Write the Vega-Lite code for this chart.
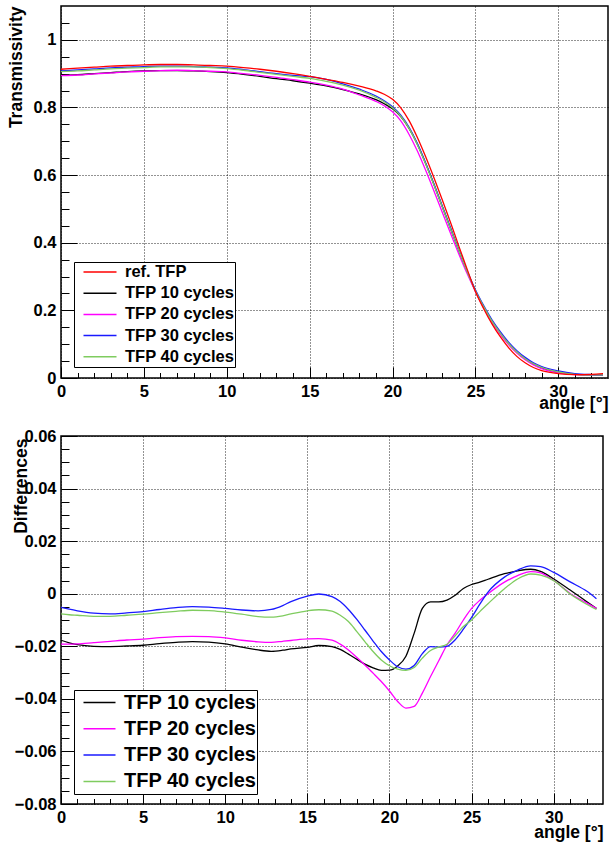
{
  "$schema": "https://vega.github.io/schema/vega-lite/v6.json",
  "padding": {"left": 6, "top": 5, "right": 0, "bottom": 0},
  "bounds": "flush",
  "spacing": 58,
  "datasets": {
    "top": [
      {"angle": 0, "ref": 0.913, "c10": 0.895, "c20": 0.894, "c30": 0.908, "c40": 0.906},
      {"angle": 1, "ref": 0.916, "c10": 0.897, "c20": 0.896, "c30": 0.911, "c40": 0.908},
      {"angle": 2, "ref": 0.919, "c10": 0.900, "c20": 0.899, "c30": 0.914, "c40": 0.911},
      {"angle": 3, "ref": 0.922, "c10": 0.903, "c20": 0.902, "c30": 0.917, "c40": 0.914},
      {"angle": 4, "ref": 0.924, "c10": 0.906, "c20": 0.905, "c30": 0.919, "c40": 0.916},
      {"angle": 5, "ref": 0.926, "c10": 0.908, "c20": 0.907, "c30": 0.921, "c40": 0.918},
      {"angle": 6, "ref": 0.927, "c10": 0.909, "c20": 0.909, "c30": 0.922, "c40": 0.920},
      {"angle": 7, "ref": 0.927, "c10": 0.909, "c20": 0.910, "c30": 0.922, "c40": 0.920},
      {"angle": 8, "ref": 0.926, "c10": 0.908, "c20": 0.909, "c30": 0.921, "c40": 0.920},
      {"angle": 9, "ref": 0.924, "c10": 0.906, "c20": 0.907, "c30": 0.919, "c40": 0.918},
      {"angle": 10, "ref": 0.922, "c10": 0.903, "c20": 0.905, "c30": 0.917, "c40": 0.915},
      {"angle": 11, "ref": 0.918, "c10": 0.898, "c20": 0.900, "c30": 0.912, "c40": 0.910},
      {"angle": 12, "ref": 0.913, "c10": 0.892, "c20": 0.895, "c30": 0.906, "c40": 0.904},
      {"angle": 13, "ref": 0.907, "c10": 0.885, "c20": 0.889, "c30": 0.900, "c40": 0.898},
      {"angle": 14, "ref": 0.900, "c10": 0.879, "c20": 0.882, "c30": 0.895, "c40": 0.892},
      {"angle": 15, "ref": 0.892, "c10": 0.872, "c20": 0.875, "c30": 0.891, "c40": 0.886},
      {"angle": 16, "ref": 0.883, "c10": 0.864, "c20": 0.866, "c30": 0.883, "c40": 0.877},
      {"angle": 17, "ref": 0.874, "c10": 0.853, "c20": 0.854, "c30": 0.870, "c40": 0.866},
      {"angle": 18, "ref": 0.863, "c10": 0.840, "c20": 0.837, "c30": 0.854, "c40": 0.851},
      {"angle": 19, "ref": 0.849, "c10": 0.823, "c20": 0.818, "c30": 0.834, "c40": 0.830},
      {"angle": 19.5, "ref": 0.839, "c10": 0.811, "c20": 0.805, "c30": 0.820, "c40": 0.817},
      {"angle": 20, "ref": 0.824, "c10": 0.796, "c20": 0.787, "c30": 0.802, "c40": 0.799},
      {"angle": 20.5, "ref": 0.799, "c10": 0.773, "c20": 0.760, "c30": 0.777, "c40": 0.774},
      {"angle": 21, "ref": 0.761, "c10": 0.738, "c20": 0.720, "c30": 0.741, "c40": 0.738},
      {"angle": 21.5, "ref": 0.711, "c10": 0.691, "c20": 0.671, "c30": 0.693, "c40": 0.690},
      {"angle": 22, "ref": 0.654, "c10": 0.634, "c20": 0.614, "c30": 0.636, "c40": 0.633},
      {"angle": 22.5, "ref": 0.592, "c10": 0.572, "c20": 0.553, "c30": 0.574, "c40": 0.571},
      {"angle": 23, "ref": 0.527, "c10": 0.507, "c20": 0.490, "c30": 0.509, "c40": 0.506},
      {"angle": 23.5, "ref": 0.460, "c10": 0.442, "c20": 0.428, "c30": 0.444, "c40": 0.441},
      {"angle": 24, "ref": 0.390, "c10": 0.377, "c20": 0.367, "c30": 0.379, "c40": 0.377},
      {"angle": 24.5, "ref": 0.322, "c10": 0.315, "c20": 0.309, "c30": 0.317, "c40": 0.315},
      {"angle": 25, "ref": 0.256, "c10": 0.258, "c20": 0.256, "c30": 0.261, "c40": 0.258},
      {"angle": 25.5, "ref": 0.205, "c10": 0.210, "c20": 0.208, "c30": 0.214, "c40": 0.211},
      {"angle": 26, "ref": 0.160, "c10": 0.168, "c20": 0.166, "c30": 0.172, "c40": 0.168},
      {"angle": 26.5, "ref": 0.122, "c10": 0.132, "c20": 0.130, "c30": 0.137, "c40": 0.133},
      {"angle": 27, "ref": 0.090, "c10": 0.101, "c20": 0.099, "c30": 0.106, "c40": 0.102},
      {"angle": 27.5, "ref": 0.064, "c10": 0.076, "c20": 0.074, "c30": 0.081, "c40": 0.077},
      {"angle": 28, "ref": 0.045, "c10": 0.056, "c20": 0.054, "c30": 0.061, "c40": 0.057},
      {"angle": 28.5, "ref": 0.031, "c10": 0.041, "c20": 0.039, "c30": 0.045, "c40": 0.042},
      {"angle": 29, "ref": 0.022, "c10": 0.030, "c20": 0.028, "c30": 0.034, "c40": 0.031},
      {"angle": 30, "ref": 0.013, "c10": 0.017, "c20": 0.016, "c30": 0.021, "c40": 0.018},
      {"angle": 31, "ref": 0.010, "c10": 0.011, "c20": 0.010, "c30": 0.013, "c40": 0.011},
      {"angle": 32, "ref": 0.011, "c10": 0.009, "c20": 0.009, "c30": 0.010, "c40": 0.009},
      {"angle": 32.7, "ref": 0.013, "c10": 0.009, "c20": 0.009, "c30": 0.009, "c40": 0.009}
    ],
    "diff": [
      {"angle": 0, "c10": -0.0177, "c20": -0.0192, "c30": -0.0052, "c40": -0.0077},
      {"angle": 0.5, "c10": -0.0187, "c20": -0.0192, "c30": -0.0059, "c40": -0.0080},
      {"angle": 1, "c10": -0.0194, "c20": -0.0191, "c30": -0.0065, "c40": -0.0082},
      {"angle": 2, "c10": -0.0200, "c20": -0.0186, "c30": -0.0074, "c40": -0.0086},
      {"angle": 3, "c10": -0.0201, "c20": -0.0181, "c30": -0.0077, "c40": -0.0086},
      {"angle": 4, "c10": -0.0199, "c20": -0.0176, "c30": -0.0073, "c40": -0.0082},
      {"angle": 5, "c10": -0.0196, "c20": -0.0173, "c30": -0.0068, "c40": -0.0078},
      {"angle": 6, "c10": -0.0190, "c20": -0.0167, "c30": -0.0060, "c40": -0.0072},
      {"angle": 7, "c10": -0.0185, "c20": -0.0163, "c30": -0.0053, "c40": -0.0067},
      {"angle": 8, "c10": -0.0182, "c20": -0.0162, "c30": -0.0049, "c40": -0.0063},
      {"angle": 9, "c10": -0.0184, "c20": -0.0163, "c30": -0.0051, "c40": -0.0064},
      {"angle": 10, "c10": -0.0191, "c20": -0.0168, "c30": -0.0056, "c40": -0.0070},
      {"angle": 11, "c10": -0.0203, "c20": -0.0177, "c30": -0.0062, "c40": -0.0078},
      {"angle": 12, "c10": -0.0214, "c20": -0.0183, "c30": -0.0065, "c40": -0.0087},
      {"angle": 12.8, "c10": -0.0219, "c20": -0.0185, "c30": -0.0060, "c40": -0.0089},
      {"angle": 13.5, "c10": -0.0215, "c20": -0.0181, "c30": -0.0045, "c40": -0.0084},
      {"angle": 14, "c10": -0.0210, "c20": -0.0178, "c30": -0.0030, "c40": -0.0077},
      {"angle": 15, "c10": -0.0204, "c20": -0.0172, "c30": -0.0009, "c40": -0.0065},
      {"angle": 15.7, "c10": -0.0197, "c20": -0.0171, "c30": -0.0001, "c40": -0.0061},
      {"angle": 16.5, "c10": -0.0201, "c20": -0.0177, "c30": -0.0011, "c40": -0.0066},
      {"angle": 17, "c10": -0.0212, "c20": -0.0192, "c30": -0.0030, "c40": -0.0082},
      {"angle": 17.5, "c10": -0.0230, "c20": -0.0214, "c30": -0.0060, "c40": -0.0106},
      {"angle": 18, "c10": -0.0249, "c20": -0.0242, "c30": -0.0097, "c40": -0.0143},
      {"angle": 18.5, "c10": -0.0268, "c20": -0.0271, "c30": -0.0138, "c40": -0.0182},
      {"angle": 19, "c10": -0.0282, "c20": -0.0302, "c30": -0.0180, "c40": -0.0220},
      {"angle": 19.5, "c10": -0.0292, "c20": -0.0334, "c30": -0.0220, "c40": -0.0252},
      {"angle": 20, "c10": -0.0291, "c20": -0.0370, "c30": -0.0252, "c40": -0.0274},
      {"angle": 20.5, "c10": -0.0275, "c20": -0.0410, "c30": -0.0278, "c40": -0.0287},
      {"angle": 21, "c10": -0.0238, "c20": -0.0435, "c30": -0.0287, "c40": -0.0292},
      {"angle": 21.5, "c10": -0.0151, "c20": -0.0429, "c30": -0.0273, "c40": -0.0281},
      {"angle": 22, "c10": -0.0056, "c20": -0.0378, "c30": -0.0228, "c40": -0.0245},
      {"angle": 22.5, "c10": -0.0031, "c20": -0.0315, "c30": -0.0201, "c40": -0.0216},
      {"angle": 23, "c10": -0.0031, "c20": -0.0255, "c30": -0.0203, "c40": -0.0203},
      {"angle": 23.5, "c10": -0.0024, "c20": -0.0195, "c30": -0.0200, "c40": -0.0192},
      {"angle": 24, "c10": -0.0006, "c20": -0.0150, "c30": -0.0175, "c40": -0.0160},
      {"angle": 24.5, "c10": 0.0020, "c20": -0.0100, "c30": -0.0135, "c40": -0.0125},
      {"angle": 25, "c10": 0.0035, "c20": -0.0056, "c30": -0.0090, "c40": -0.0100},
      {"angle": 25.5, "c10": 0.0044, "c20": -0.0025, "c30": -0.0040, "c40": -0.0068},
      {"angle": 26, "c10": 0.0055, "c20": 0.0000, "c30": 0.0006, "c40": -0.0038},
      {"angle": 27, "c10": 0.0076, "c20": 0.0044, "c30": 0.0063, "c40": 0.0019},
      {"angle": 27.8, "c10": 0.0087, "c20": 0.0069, "c30": 0.0090, "c40": 0.0056},
      {"angle": 28.6, "c10": 0.0093, "c20": 0.0084, "c30": 0.0106, "c40": 0.0075},
      {"angle": 29.2, "c10": 0.0085, "c20": 0.0079, "c30": 0.0103, "c40": 0.0071},
      {"angle": 30, "c10": 0.0056, "c20": 0.0050, "c30": 0.0081, "c40": 0.0050},
      {"angle": 31, "c10": 0.0014, "c20": 0.0001, "c30": 0.0045, "c40": -0.0001},
      {"angle": 32, "c10": -0.0030, "c20": -0.0035, "c30": 0.0010, "c40": -0.0040},
      {"angle": 32.6, "c10": -0.0056, "c20": -0.0056, "c30": -0.0019, "c40": -0.0060}
    ]
  },
  "vconcat": [
    {
      "width": 547,
      "height": 372,
      "data": {"name": "top"},
      "transform": [{"fold": ["ref", "c10", "c20", "c30", "c40"], "as": ["series", "T"]}],
      "layer": [
        {
          "transform": [{"filter": "datum.series !== 'ref'"}],
          "mark": {"type": "line", "strokeWidth": 1.3, "interpolate": "monotone"},
          "encoding": {
            "x": {"field": "angle", "type": "quantitative", "scale": {"domain": [0, 33], "nice": false, "zero": false},
              "axis": {"orient": "bottom", "values": [1,2,3,4,6,7,8,9,11,12,13,14,16,17,18,19,21,22,23,24,26,27,28,29,31,32], "labels": false, "grid": false, "domain": false, "title": null, "tickSize": -5.5}},
            "y": {"field": "T", "type": "quantitative", "scale": {"domain": [0, 1.1], "nice": false},
              "axis": {"orient": "left", "values": [0.05,0.1,0.15,0.25,0.3,0.35,0.45,0.5,0.55,0.65,0.7,0.75,0.85,0.9,0.95,1.05], "labels": false, "grid": false, "domain": false, "title": null, "tickSize": -8}},
            "color": {"field": "series", "type": "nominal",
              "scale": {"domain": ["ref", "c10", "c20", "c30", "c40"], "range": ["#ff0000", "#000000", "#ff00ff", "#1a1aff", "#7fcc5f"]},
              "legend": {"orient": "none", "legendX": 13, "legendY": 256, "title": null, "padding": 0.5, "strokeColor": "#000", "fillColor": "#fff", "symbolType": "stroke", "symbolSize": 1089, "symbolStrokeWidth": 1.5, "symbolOffset": 8, "labelOffset": 7.5, "labelFontSize": 16.5, "labelFontWeight": "bold", "clipHeight": 19, "rowPadding": 2.2,
                "labelExpr": "{'ref': 'ref. TFP', 'c10': 'TFP 10 cycles', 'c20': 'TFP 20 cycles', 'c30': 'TFP 30 cycles', 'c40': 'TFP 40 cycles'}[datum.value] + '\u00a0\u00a0\u00a0\u00a0\u00a0\u00a0\u00a0'"}}
          }
        },
        {
          "transform": [{"filter": "datum.series === 'ref'"}],
          "mark": {"type": "line", "strokeWidth": 1.3, "interpolate": "monotone"},
          "encoding": {
            "x": {"field": "angle", "type": "quantitative", "scale": {"domain": [0, 33], "nice": false, "zero": false},
              "axis": {"orient": "bottom", "values": [0,5,10,15,20,25,30], "format": "d", "tickSize": -11, "labelPadding": 16, "grid": true, "title": "angle [°]", "titleX": 547, "titleY": 30.5, "titleAlign": "right", "titleBaseline": "alphabetic"}},
            "y": {"field": "T", "type": "quantitative", "scale": {"domain": [0, 1.1], "nice": false},
              "axis": {"orient": "left", "values": [0,0.2,0.4,0.6,0.8,1], "format": ".1~f", "tickSize": -16, "labelPadding": 21, "grid": true, "title": "Transmissivity", "titleAngle": 270, "titleX": -40, "titleY": 0, "titleAlign": "right", "titleBaseline": "alphabetic"}},
            "color": {"field": "series", "type": "nominal",
              "scale": {"domain": ["ref", "c10", "c20", "c30", "c40"], "range": ["#ff0000", "#000000", "#ff00ff", "#1a1aff", "#7fcc5f"]},
              "legend": {"orient": "none", "legendX": 13, "legendY": 256, "title": null, "padding": 0.5, "strokeColor": "#000", "fillColor": "#fff", "symbolType": "stroke", "symbolSize": 1089, "symbolStrokeWidth": 1.5, "symbolOffset": 8, "labelOffset": 7.5, "labelFontSize": 16.5, "labelFontWeight": "bold", "clipHeight": 19, "rowPadding": 2.2,
                "labelExpr": "{'ref': 'ref. TFP', 'c10': 'TFP 10 cycles', 'c20': 'TFP 20 cycles', 'c30': 'TFP 30 cycles', 'c40': 'TFP 40 cycles'}[datum.value] + '\u00a0\u00a0\u00a0\u00a0\u00a0\u00a0\u00a0'"}}
          }
        }
      ],
      "resolve": {"axis": {"x": "independent", "y": "independent"}}
    },
    {
      "width": 542,
      "height": 368,
      "data": {"name": "diff"},
      "transform": [{"fold": ["c10", "c20", "c30", "c40"], "as": ["series", "D"]}],
      "layer": [
        {
          "transform": [{"filter": "datum.series === 'c10'"}],
          "mark": {"type": "line", "strokeWidth": 1.3, "interpolate": "monotone"},
          "encoding": {
            "x": {"field": "angle", "type": "quantitative", "scale": {"domain": [0, 33], "nice": false, "zero": false},
              "axis": {"orient": "bottom", "values": [1,2,3,4,6,7,8,9,11,12,13,14,16,17,18,19,21,22,23,24,26,27,28,29,31,32], "labels": false, "grid": false, "domain": false, "title": null, "tickSize": -5.5}},
            "y": {"field": "D", "type": "quantitative", "scale": {"domain": [-0.08, 0.06], "nice": false, "zero": false},
              "axis": {"orient": "left", "values": [-0.075,-0.07,-0.065,-0.055,-0.05,-0.045,-0.035,-0.03,-0.025,-0.015,-0.01,-0.005,0.005,0.01,0.015,0.025,0.03,0.035,0.045,0.05,0.055], "labels": false, "grid": false, "domain": false, "title": null, "tickSize": -8}},
            "color": {"field": "series", "type": "nominal",
              "scale": {"domain": ["c10", "c20", "c30", "c40"], "range": ["#000000", "#ff00ff", "#1a1aff", "#7fcc5f"]},
              "legend": {"orient": "none", "legendX": 13, "legendY": 254, "title": null, "padding": 0.5, "strokeColor": "#000", "fillColor": "#fff", "symbolType": "stroke", "symbolSize": 1024, "symbolStrokeWidth": 1.5, "symbolOffset": 8, "labelOffset": 7.5, "labelFontSize": 20, "labelFontWeight": "bold", "clipHeight": 24, "rowPadding": 2.3,
                "labelExpr": "{'c10': 'TFP 10 cycles', 'c20': 'TFP 20 cycles', 'c30': 'TFP 30 cycles', 'c40': 'TFP 40 cycles'}[datum.value] + '\u00a0'"}}
          }
        },
        {
          "transform": [{"filter": "datum.series !== 'c10'"}],
          "mark": {"type": "line", "strokeWidth": 1.3, "interpolate": "monotone"},
          "encoding": {
            "x": {"field": "angle", "type": "quantitative", "scale": {"domain": [0, 33], "nice": false, "zero": false},
              "axis": {"orient": "bottom", "values": [0,5,10,15,20,25,30], "format": "d", "tickSize": -11, "labelPadding": 16, "grid": true, "title": "angle [°]", "titleX": 542, "titleY": 33.5, "titleAlign": "right", "titleBaseline": "alphabetic"}},
            "y": {"field": "D", "type": "quantitative", "scale": {"domain": [-0.08, 0.06], "nice": false, "zero": false},
              "axis": {"orient": "left", "values": [-0.08,-0.06,-0.04,-0.02,0,0.02,0.04,0.06], "format": ".2~f", "tickSize": -16, "labelPadding": 21, "grid": true, "title": "Differences", "titleAngle": 270, "titleX": -35, "titleY": 2, "titleAlign": "right", "titleBaseline": "alphabetic"}},
            "color": {"field": "series", "type": "nominal",
              "scale": {"domain": ["c10", "c20", "c30", "c40"], "range": ["#000000", "#ff00ff", "#1a1aff", "#7fcc5f"]},
              "legend": {"orient": "none", "legendX": 13, "legendY": 254, "title": null, "padding": 0.5, "strokeColor": "#000", "fillColor": "#fff", "symbolType": "stroke", "symbolSize": 1024, "symbolStrokeWidth": 1.5, "symbolOffset": 8, "labelOffset": 7.5, "labelFontSize": 20, "labelFontWeight": "bold", "clipHeight": 24, "rowPadding": 2.3,
                "labelExpr": "{'c10': 'TFP 10 cycles', 'c20': 'TFP 20 cycles', 'c30': 'TFP 30 cycles', 'c40': 'TFP 40 cycles'}[datum.value] + '\u00a0'"}}
          }
        }
      ],
      "resolve": {"axis": {"x": "independent", "y": "independent"}}
    }
  ],
  "resolve": {"scale": {"color": "independent"}, "legend": {"color": "independent"}},
  "config": {
    "font": "Liberation Sans",
    "view": {"stroke": "#000", "strokeWidth": 1.5},
    "axis": {"domain": false, "labelFont": "Liberation Sans", "labelFontSize": 16.5, "labelFontWeight": "bold", "labelColor": "#000", "titleFont": "Liberation Sans", "titleFontSize": 17.5, "titleFontWeight": "bold", "titleColor": "#000", "tickColor": "#000", "tickWidth": 1, "gridColor": "#000", "gridDash": [1, 2], "gridWidth": 1, "gridOpacity": 0.85, "labelFlush": false, "labelOverlap": false},
    "legend": {"labelFont": "Liberation Sans", "labelColor": "#000", "titleFont": "Liberation Sans"}
  }
}
